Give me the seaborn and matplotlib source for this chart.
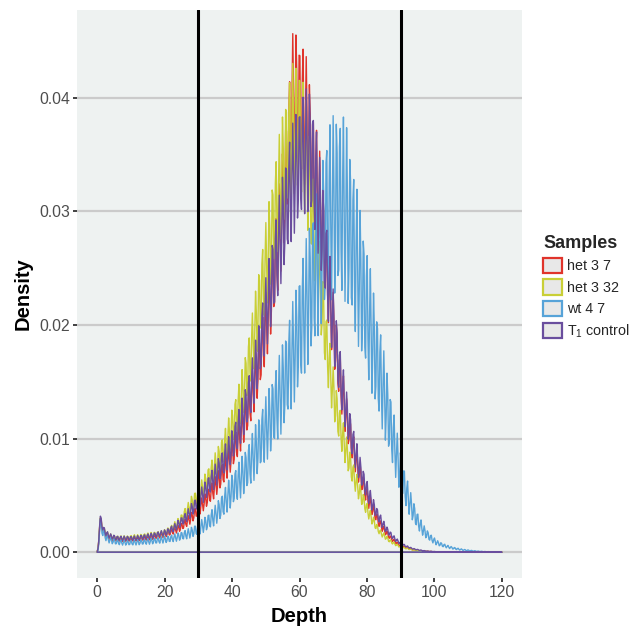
import numpy as np
import pandas as pd
import seaborn as sns
import matplotlib
matplotlib.use("Agg")
import matplotlib.pyplot as plt
from matplotlib.patches import Patch

# Read-depth histogram per sample (density at each integer depth, x1e-3),
# estimated from the reference picture; index = depth 0..120
depths = list(range(0, 121))

het_3_7 = [
    0,
    3.0, 2.0, 1.6, 1.4, 1.3, 1.25, 1.25, 1.25, 1.25, 1.25,
    1.3, 1.3, 1.35, 1.35, 1.4, 1.45, 1.5, 1.6, 1.65, 1.75,
    1.85, 2.0, 2.15, 2.3, 2.5, 2.8, 3.1, 3.4, 3.8, 4.2,
    4.6, 5.0, 5.5, 5.9, 6.4, 7.0, 7.6, 8.2, 8.9, 9.6,
    10.4, 11.2, 12.2, 13.2, 14.3, 15.5, 17.0, 18.5, 20.2, 22.0,
    24.0, 26.2, 28.6, 31.2, 34.0, 37.0, 40.2, 44.0, 44.2, 43.6,
    43.0, 42.0, 40.0, 37.6, 36.0, 34.0, 31.0, 28.0, 25.0, 22.0,
    19.5, 17.0, 15.0, 13.0, 11.5, 10.0, 8.7, 7.5, 6.5, 5.5,
    4.7, 4.0, 3.3, 2.7, 2.2, 1.8, 1.4, 1.1, 0.85, 0.65,
    0.5, 0.38, 0.3, 0.23, 0.18, 0.14, 0.1, 0.08, 0.06, 0.04,
    0.03, 0.02, 0.02, 0.01, 0.01, 0, 0, 0, 0, 0,
    0, 0, 0, 0, 0, 0, 0, 0, 0, 0,
]

het_3_32 = [
    0,
    3.2, 2.2, 1.8, 1.6, 1.5, 1.45, 1.45, 1.45, 1.45, 1.5,
    1.55, 1.55, 1.6, 1.65, 1.7, 1.75, 1.8, 1.85, 1.9, 2.0,
    2.2, 2.4, 2.7, 3.0, 3.4, 3.9, 4.4, 5.0, 5.4, 5.9,
    6.4, 7.0, 7.6, 8.2, 8.8, 9.5, 10.2, 11.0, 11.9, 12.8,
    13.8, 14.9, 16.2, 17.6, 19.3, 21.2, 23.2, 25.2, 27.2, 29.2,
    31.2, 33.0, 35.0, 37.0, 38.8, 40.5, 42.0, 43.3, 43.2, 43.3,
    42.0, 40.0, 37.2, 34.2, 31.0, 27.5, 24.2, 21.2, 18.6, 16.4,
    14.5, 12.9, 11.5, 10.2, 9.0, 7.9, 6.9, 6.0, 5.2, 4.4,
    3.7, 3.1, 2.5, 2.0, 1.7, 1.4, 1.1, 0.9, 0.7, 0.55,
    0.45, 0.36, 0.28, 0.22, 0.17, 0.13, 0.1, 0.08, 0.06, 0.05,
    0.04, 0.03, 0.02, 0.02, 0.01, 0.01, 0.01, 0, 0, 0,
    0, 0, 0, 0, 0, 0, 0, 0, 0, 0,
]

wt_4_7 = [
    0,
    3.0, 2.0, 1.5, 1.3, 1.2, 1.12, 1.08, 1.05, 1.05, 1.05,
    1.07, 1.1, 1.12, 1.15, 1.18, 1.22, 1.26, 1.3, 1.35, 1.4,
    1.45, 1.52, 1.6, 1.7, 1.8, 1.92, 2.05, 2.2, 2.4, 2.6,
    2.85, 3.1, 3.4, 3.75, 4.1, 4.6, 5.1, 5.7, 6.3, 6.9,
    7.4, 7.9, 8.4, 9.0, 9.7, 10.4, 11.2, 12.0, 12.8, 13.6,
    14.4, 15.3, 16.2, 17.2, 18.3, 19.4, 20.6, 21.9, 23.2, 24.6,
    26.0, 27.4, 28.8, 30.2, 31.6, 33.2, 35.0, 36.6, 37.6, 38.2,
    38.4, 38.4, 38.2, 37.2, 35.4, 33.6, 31.8, 30.0, 28.2, 26.6,
    24.8, 22.8, 21.0, 19.4, 17.6, 15.8, 14.0, 12.2, 10.4, 8.8,
    7.5, 6.3, 5.2, 4.3, 3.5, 2.85, 2.3, 1.9, 1.55, 1.25,
    1.0, 0.85, 0.72, 0.6, 0.5, 0.42, 0.35, 0.29, 0.24, 0.2,
    0.16, 0.13, 0.1, 0.08, 0.06, 0.05, 0.04, 0.03, 0.02, 0,
]

t1_control = [
    0,
    3.3, 2.2, 1.8, 1.6, 1.5, 1.42, 1.4, 1.4, 1.4, 1.4,
    1.42, 1.45, 1.5, 1.55, 1.6, 1.65, 1.72, 1.8, 1.88, 1.95,
    2.1, 2.3, 2.5, 2.8, 3.1, 3.4, 3.8, 4.3, 4.7, 5.2,
    5.7, 6.2, 6.7, 7.2, 7.7, 8.3, 8.9, 9.5, 10.1, 10.8,
    11.6, 12.5, 13.5, 14.5, 15.7, 17.0, 18.6, 20.3, 22.1, 24.0,
    25.8, 27.6, 29.4, 31.2, 33.0, 34.7, 36.2, 37.5, 38.6, 39.4,
    40.1, 40.5, 40.5, 39.0, 37.0, 34.5, 32.0, 29.0, 26.0, 23.0,
    20.5, 18.0, 16.0, 14.0, 12.3, 10.8, 9.5, 8.3, 7.2, 6.3,
    5.4, 4.6, 3.9, 3.3, 2.7, 2.2, 1.8, 1.45, 1.15, 0.9,
    0.7, 0.55, 0.42, 0.32, 0.25, 0.19, 0.14, 0.1, 0.08, 0.06,
    0.04, 0.03, 0.02, 0.02, 0.01, 0.01, 0, 0, 0, 0,
    0, 0, 0, 0, 0, 0, 0, 0, 0, 0,
]

sample_names = ["het 3 7", "het 3 32", "wt 4 7", "T$_1$ control"]
sample_values = [het_3_7, het_3_32, wt_4_7, t1_control]
sample_colors = ["#E0342B", "#C9CF36", "#57A3D8", "#6A4E9E"]
# kernel width in depth units, per sample
sample_bandwidths = [0.36, 0.36, 0.32, 0.36]
cutoffs = [30, 90]


def build_frame():
    frames = []
    for name, vals in zip(sample_names, sample_values):
        frames.append(pd.DataFrame({"depth": depths, "weight": vals, "sample": name}))
    return pd.concat(frames, ignore_index=True)


def main():
    df = build_frame()

    sns.set_theme(style="white")
    plt.rcParams["font.family"] = ["Liberation Sans", "DejaVu Sans"]
    plt.rcParams["mathtext.fontset"] = "custom"
    plt.rcParams["mathtext.rm"] = "Liberation Sans"
    plt.rcParams["mathtext.it"] = "Liberation Sans:italic"

    fig = plt.figure(figsize=(6.33, 6.28), dpi=100)
    ax = fig.add_axes([77 / 633, 1 - 578 / 628, 445 / 633, 568 / 628])
    ax.set_facecolor("#EEF2F1")

    for name, color, bw in zip(sample_names, sample_colors, sample_bandwidths):
        sub = df[df["sample"] == name]
        w = sub["weight"].to_numpy(float)
        sd = np.sqrt(np.cov(sub["depth"].to_numpy(float), aweights=w))
        sns.kdeplot(
            data=sub, x="depth", weights="weight",
            bw_method=bw / sd, gridsize=512, cut=0,
            fill=True, facecolor="none", color=color, linewidth=1.0,
            ax=ax,
        )

    for c in cutoffs:
        ax.axvline(c, color="black", linewidth=2.2, zorder=5)

    ax.set_xlim(-6, 126)
    ax.set_ylim(-0.00227, 0.0477)
    ax.set_xticks([0, 20, 40, 60, 80, 100, 120])
    ax.set_yticks([0.00, 0.01, 0.02, 0.03, 0.04])
    ax.yaxis.set_major_formatter(matplotlib.ticker.FormatStrFormatter("%.2f"))
    ax.yaxis.grid(True, color="#CBCBCB", linewidth=1.6)
    ax.xaxis.grid(False)
    ax.set_axisbelow(True)
    for s in ax.spines.values():
        s.set_visible(False)
    ax.tick_params(axis="both", which="major", direction="out", length=3, width=1.3,
                   color="#333333", labelsize=11.3, labelcolor="#4D4D4D", pad=2,
                   bottom=True, left=True)

    ax.set_xlabel("Depth", fontsize=14.5, fontweight="bold", color="black", labelpad=5)
    ax.set_ylabel("Density", fontsize=14.5, fontweight="bold", color="black", labelpad=5)

    handles = [Patch(facecolor="#E8E8E8", edgecolor=c, linewidth=1.6) for c in sample_colors]
    leg = ax.legend(handles, sample_names, title="Samples", loc="center left",
                    bbox_to_anchor=(1.032, 0.512), frameon=False, borderpad=0,
                    fontsize=10.3, title_fontsize=13, handlelength=1.3,
                    handleheight=1.3, labelspacing=0.42, handletextpad=0.35,
                    alignment="left")
    leg.get_title().set_fontweight("bold")

    fig.savefig("out.png", dpi=100)


if __name__ == "__main__":
    main()
